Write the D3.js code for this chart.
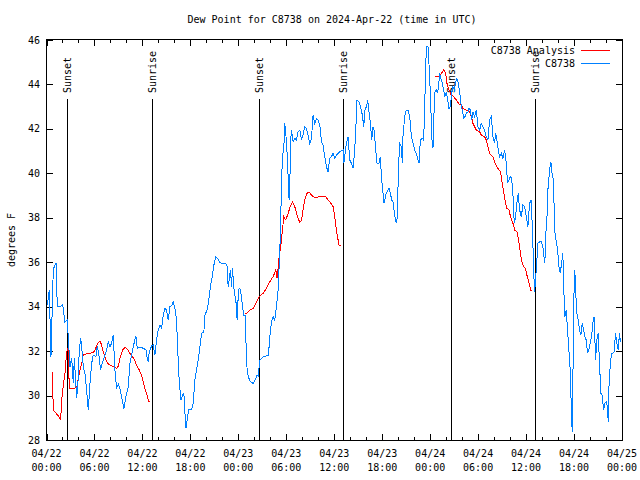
<!DOCTYPE html>
<html><head><meta charset="utf-8">
<script src="https://cdn.jsdelivr.net/npm/d3@7"></script>
<style>
body{margin:0;background:#fff}
text{font-family:"DejaVu Sans Mono","Liberation Mono",monospace;font-size:10px;fill:#000}
line,path,rect{shape-rendering:crispEdges}
</style>
</head><body>
<svg id="chart" width="640" height="480"></svg>
<script>
const titleText = "Dew Point for C8738 on 2024-Apr-22 (time in UTC)";
const yLabel = "degrees F";
const yTickValues = [28, 30, 32, 34, 36, 38, 40, 42, 44, 46];
const seriesNames = ["C8738 Analysis", "C8738"];
const seriesColors = ["#ff0000", "#0080ff"];
// sunrise/sunset, hours after 2024-04-22 00:00 UTC
const sunLabels = ["Sunset", "Sunrise", "Sunset", "Sunrise", "Sunset", "Sunrise"];
const sunHours = [2.6, 13.22, 26.6, 37.1, 50.6, 61.1];

// station observations (hours after 04/22 00:00 UTC, dew point F)
const obsHours = [0.1,0.35,0.56,0.85,1.19,1.35,1.77,2.02,2.31,2.6,2.73,2.94,3.15,3.35,3.48,3.69,3.77,3.98,4.1,4.27,4.4,4.6,4.81,5.02,5.23,5.44,5.65,5.85,6.19,6.35,6.56,6.77,6.98,7.23,7.52,7.73,7.94,8.15,8.35,8.56,8.77,8.98,9.19,9.4,9.69,9.94,10.23,10.44,10.77,11.06,11.19,11.35,11.69,12.1,12.44,12.6,12.73,12.85,13.15,13.35,13.56,13.77,13.98,14.19,14.4,14.6,14.81,15.02,15.23,15.44,15.69,15.85,16.06,16.27,16.4,16.6,16.81,17.02,17.19,17.31,17.44,17.6,17.77,18.15,18.35,18.56,18.77,19.1,19.4,19.69,19.81,20.1,20.31,20.52,20.77,20.94,21.19,21.48,21.69,22.02,22.44,22.6,22.73,22.85,23.02,23.15,23.27,23.48,23.69,23.85,24.02,24.19,24.4,24.52,24.69,24.85,24.94,25.02,25.23,25.52,25.85,26.19,26.35,26.52,26.6,26.69,26.9,27.1,27.52,27.77,27.94,28.15,28.35,28.56,28.77,28.98,29.1,29.27,29.4,29.52,29.69,29.81,29.94,30.1,30.27,30.35,30.44,30.52,30.65,30.85,31.06,31.27,31.48,31.69,31.9,32.1,32.31,32.52,32.73,32.94,33.15,33.35,33.56,33.77,33.98,34.19,34.4,34.6,34.81,35.02,35.23,35.44,35.65,35.85,36.06,36.27,36.69,37.1,37.19,37.31,37.52,37.73,37.94,38.15,38.35,38.56,38.69,38.85,39.1,39.27,39.52,39.69,39.85,40.02,40.19,40.35,40.52,40.69,40.85,40.98,41.19,41.35,41.6,41.77,41.9,42.1,42.23,42.44,42.6,42.85,43.02,43.19,43.35,43.56,43.77,43.9,44.02,44.19,44.4,44.52,44.6,44.81,45.02,45.23,45.44,45.65,45.85,46.06,46.27,46.48,46.6,46.77,47.02,47.19,47.31,47.44,47.52,47.73,47.85,48.06,48.19,48.35,48.48,48.6,48.77,48.9,49.02,49.19,49.35,49.52,49.69,49.85,50.02,50.19,50.35,50.52,50.69,50.85,51.02,51.19,51.35,51.52,51.69,51.85,52.02,52.19,52.35,52.52,52.73,52.85,53.02,53.19,53.35,53.56,53.77,53.98,54.19,54.4,54.6,54.81,55.02,55.23,55.44,55.65,55.85,56.06,56.19,56.35,56.52,56.69,56.9,57.1,57.31,57.52,57.69,57.85,58.02,58.19,58.35,58.52,58.69,58.85,59.02,59.19,59.4,59.6,59.81,60.02,60.23,60.44,60.65,60.85,60.98,61.06,61.19,61.35,61.48,61.69,61.9,62.1,62.23,62.35,62.44,62.6,62.73,62.94,63.1,63.27,63.44,63.56,63.69,63.85,63.98,64.1,64.27,64.44,64.6,64.69,64.85,65.02,65.19,65.35,65.52,65.65,65.77,65.9,65.98,66.1,66.19,66.35,66.52,66.69,66.85,67.02,67.19,67.35,67.52,67.69,67.85,68.02,68.19,68.35,68.52,68.69,68.85,69.02,69.19,69.35,69.52,69.69,69.85,70.02,70.19,70.27,70.35,70.52,70.69,70.85,71.02,71.19,71.35,71.52,71.69,71.8];
const obsDew = [34.07,34.75,31.75,35.7,35.95,34.0,34.0,34.1,33.3,33.4,32.6,31.3,31.7,30.55,31.67,30.4,29.87,30.85,32.05,32.57,32.23,31.3,31.0,30.25,29.35,30.55,31.45,31.82,31.75,32.23,31.82,31.15,31.45,31.75,32.05,32.42,32.2,32.35,32.72,31.15,30.32,30.52,30.32,29.95,29.42,29.95,30.4,31.45,32.05,32.53,32.65,32.13,32.17,32.13,32.05,31.67,31.52,31.97,32.23,32.27,31.82,32.5,32.95,33.17,33.02,33.62,33.92,33.85,33.4,34.0,34.07,34.2,33.92,33.4,32.2,30.7,29.8,30.02,30.1,29.27,28.52,28.9,29.35,29.38,29.65,30.7,31.15,31.9,32.8,32.87,33.62,33.85,34.3,34.97,35.42,35.87,36.25,36.13,35.98,35.95,35.92,35.8,34.9,35.2,35.65,34.9,35.72,34.67,34.3,33.4,34.75,34.83,34.45,34.0,33.62,33.62,32.65,31.45,30.85,30.62,30.55,30.77,30.92,30.85,31.3,31.6,31.67,31.75,31.78,31.82,32.65,33.32,33.55,33.4,34.0,34.75,35.8,37.3,39.55,40.75,41.12,42.25,41.8,40.9,39.55,38.8,39.25,41.35,41.95,41.42,41.57,41.5,41.87,41.95,41.5,41.72,42.1,42.02,41.72,41.35,41.57,42.62,42.25,42.47,42.4,42.17,41.42,41.27,40.75,40.3,40.07,40.67,40.75,40.9,40.67,40.82,40.97,41.05,40.45,40.75,41.35,41.65,40.6,40.45,40.22,41.05,41.95,43.3,43.22,43.0,42.62,42.1,42.85,43.0,43.3,42.77,42.25,41.5,42.1,41.95,41.05,40.45,40.45,40.75,39.85,39.1,38.65,39.02,39.17,39.32,39.1,38.8,38.72,38.12,37.75,38.05,40.15,41.35,41.2,40.45,41.65,42.55,42.85,42.85,42.55,41.65,41.35,41.05,40.9,40.6,40.45,41.5,41.57,41.5,43.0,44.65,45.7,45.7,44.95,43.3,41.65,41.12,42.7,43.67,43.75,43.6,43.82,44.5,44.27,44.05,43.75,43.45,43.67,43.3,42.92,43.0,43.6,43.9,43.75,44.12,44.27,44.05,43.67,43.15,42.85,42.47,42.55,42.7,42.77,42.92,42.85,42.4,42.77,42.55,42.85,42.1,41.95,42.25,42.1,41.95,41.65,41.5,42.4,42.55,41.65,41.35,41.8,41.5,41.05,40.75,40.9,40.67,41.05,40.45,39.55,39.7,39.85,39.77,39.1,37.75,38.05,38.65,39.1,38.35,38.05,38.57,38.5,38.05,37.6,38.65,38.8,36.85,35.35,34.67,35.2,36.1,36.85,36.92,36.92,36.7,36.25,35.95,37.15,37.9,39.25,40.15,40.52,39.95,39.7,37.45,37.15,36.77,36.4,35.8,35.5,35.95,36.4,35.05,33.55,33.85,32.95,32.05,31.15,29.57,28.37,31.97,34.45,35.65,34.75,33.7,33.4,32.95,32.72,33.25,32.95,32.65,32.5,31.9,32.05,32.35,32.65,33.25,33.55,31.6,32.5,32.8,31.45,30.1,30.02,29.35,29.65,29.72,29.5,28.82,30.25,31.3,31.9,31.9,31.97,32.8,32.35,32.05,32.8,32.4];

// analysis (null = gap between daily segments)
const anaHours = [0.73,0.85,1.19,1.48,1.69,1.77,1.9,2.1,2.31,2.44,2.6,2.73,2.85,3.77,3.98,4.19,4.4,4.6,5.23,5.85,6.06,6.27,6.48,6.69,6.9,7.1,7.31,7.52,7.73,7.94,8.35,8.77,8.98,9.19,9.52,9.81,10.02,10.23,10.44,10.77,11.06,11.27,11.6,11.9,12.1,12.31,12.52,12.73,12.85,
  18.0,
  24.81,25.02,25.44,25.85,26.27,26.6,27.1,27.52,27.94,28.35,28.69,28.85,29.02,29.1,29.31,29.52,29.69,29.94,30.23,30.52,30.77,31.06,31.35,31.69,31.9,32.1,32.31,32.6,32.85,33.15,33.56,34.19,34.94,35.23,35.52,35.85,36.06,36.27,36.48,36.6,36.9,
  42.0,
  48.56,49.19,49.4,49.69,49.94,50.1,50.35,50.65,50.94,51.27,51.6,51.9,52.1,52.52,52.94,53.15,53.35,53.56,53.77,54.19,54.4,54.81,55.02,55.23,55.44,55.65,55.85,56.06,56.35,56.6,56.81,57.02,57.23,57.44,57.6,57.85,58.02,58.19,58.44,58.56,58.85,59.02,59.19,59.35,59.52,59.69,59.94,60.1,60.27,60.44,60.6,60.77];
const anaDew = [31.07,29.35,29.2,29.08,28.97,28.9,29.8,30.47,31.0,31.6,32.1,32.05,30.3,30.35,30.77,31.15,31.45,31.82,31.9,31.93,32.05,32.23,32.38,32.45,32.27,31.97,31.75,31.52,31.42,31.37,31.3,31.22,31.33,31.67,32.05,32.15,32.13,32.02,31.9,31.75,31.57,31.37,31.15,30.92,30.62,30.3,30.1,29.8,29.72,
  null,
  33.67,33.7,33.85,33.92,34.22,34.45,34.6,34.83,35.12,35.35,35.65,35.27,35.87,36.25,36.7,37.45,38.05,37.9,38.2,38.53,38.72,38.5,38.12,37.78,37.9,38.35,38.8,39.1,39.17,39.02,38.9,38.95,38.95,38.8,38.68,38.5,38.05,37.45,37.0,36.75,36.75,
  null,
  44.35,44.35,44.5,44.65,44.5,44.05,43.75,43.52,43.45,43.3,43.12,43.07,42.92,42.85,42.77,42.55,42.25,42.1,41.95,41.87,41.72,41.65,41.5,41.2,40.9,40.82,40.75,40.52,40.3,40.15,40.07,39.55,39.1,38.65,38.43,38.35,38.1,37.9,37.67,37.45,37.37,37.07,36.7,36.25,35.95,35.8,35.72,35.42,35.2,34.97,34.75,34.75];

const t0 = Date.UTC(2024, 3, 22, 0, 0);
const toDate = h => new Date(t0 + h * 3600e3);

const svg = d3.select("#chart");
const L = 46.5, R = 622, T = 40, B = 440;
const x = d3.scaleUtc().domain([toDate(0), toDate(72)]).range([L, R]);
const y = d3.scaleLinear().domain([28, 46]).range([B, T]);

// title
svg.append("text").attr("x", 332).attr("y", 23).attr("text-anchor", "middle").text(titleText);
// y label
svg.append("text").attr("transform", "translate(15,240) rotate(-90)").attr("text-anchor", "middle").text(yLabel);

// ticks
const major = d3.utcHour.every(6).range(toDate(0), toDate(72.01));
const minor = d3.utcHour.every(2).range(toDate(0), toDate(72.01));
function drawTicks(axis, tr) {
  const g = svg.append("g").attr("transform", tr).call(axis);
  g.select(".domain").remove();
  g.selectAll("text").remove();
  g.selectAll("line").attr("stroke", "#000");
  return g;
}
drawTicks(d3.axisBottom(x).tickValues(minor).tickSizeInner(-3).tickSizeOuter(0), `translate(0,${B})`);
drawTicks(d3.axisBottom(x).tickValues(major).tickSizeInner(-6).tickSizeOuter(0), `translate(0,${B})`);
drawTicks(d3.axisTop(x).tickValues(minor).tickSizeInner(-3).tickSizeOuter(0), `translate(0,${T})`);
drawTicks(d3.axisTop(x).tickValues(major).tickSizeInner(-6).tickSizeOuter(0), `translate(0,${T})`);
drawTicks(d3.axisLeft(y).tickValues(yTickValues).tickSizeInner(-6).tickSizeOuter(0), `translate(${L},0)`);
drawTicks(d3.axisRight(y).tickValues(yTickValues).tickSizeInner(-6).tickSizeOuter(0), `translate(${R},0)`);

// tick labels
const fmtD = d3.utcFormat("%m/%d"), fmtT = d3.utcFormat("%H:%M");
major.forEach(d => {
  svg.append("text").attr("x", x(d)).attr("y", 457).attr("text-anchor", "middle").text(fmtD(d));
  svg.append("text").attr("x", x(d)).attr("y", 471).attr("text-anchor", "middle").text(fmtT(d));
});
yTickValues.forEach(v => {
  svg.append("text").attr("x", 40).attr("y", y(v) + 3.5).attr("text-anchor", "end").text(v);
});

// sunrise / sunset
sunHours.forEach((h, i) => {
  const xx = Math.round(x(toDate(h))) + 0.5;
  svg.append("line").attr("x1", xx).attr("x2", xx).attr("y1", 99).attr("y2", B).attr("stroke", "#000").attr("stroke-width", 1);
  svg.append("text").attr("transform", `translate(${xx},93) rotate(-90)`).attr("dy", "0.35em").text(sunLabels[i]);
});

// lines
const obs = obsHours.map((h, i) => ({t: toDate(h), v: obsDew[i]}));
const ana = anaHours.map((h, i) => ({t: toDate(h), v: anaDew[i]}));
const line = d3.line().defined(d => d.v != null).x(d => x(d.t)).y(d => y(d.v));
svg.append("path").datum(ana).attr("d", line).attr("fill", "none").attr("stroke", seriesColors[0]).attr("stroke-width", 1);
svg.append("path").datum(obs).attr("d", line).attr("fill", "none").attr("stroke", seriesColors[1]).attr("stroke-width", 1);

// legend
seriesNames.forEach((n, i) => {
  const yy = 50 + i * 13;
  svg.append("text").attr("x", 575).attr("y", yy + 3.5).attr("text-anchor", "end").text(n);
  svg.append("line").attr("x1", 581).attr("x2", 610).attr("y1", yy).attr("y2", yy).attr("stroke", seriesColors[i]).attr("stroke-width", 1);
});

// border
svg.append("rect").attr("x", L).attr("y", T - 0.5).attr("width", R - L).attr("height", B - T + 0.5)
  .attr("fill", "none").attr("stroke", "#000").attr("stroke-width", 1);
</script>
</body></html>
